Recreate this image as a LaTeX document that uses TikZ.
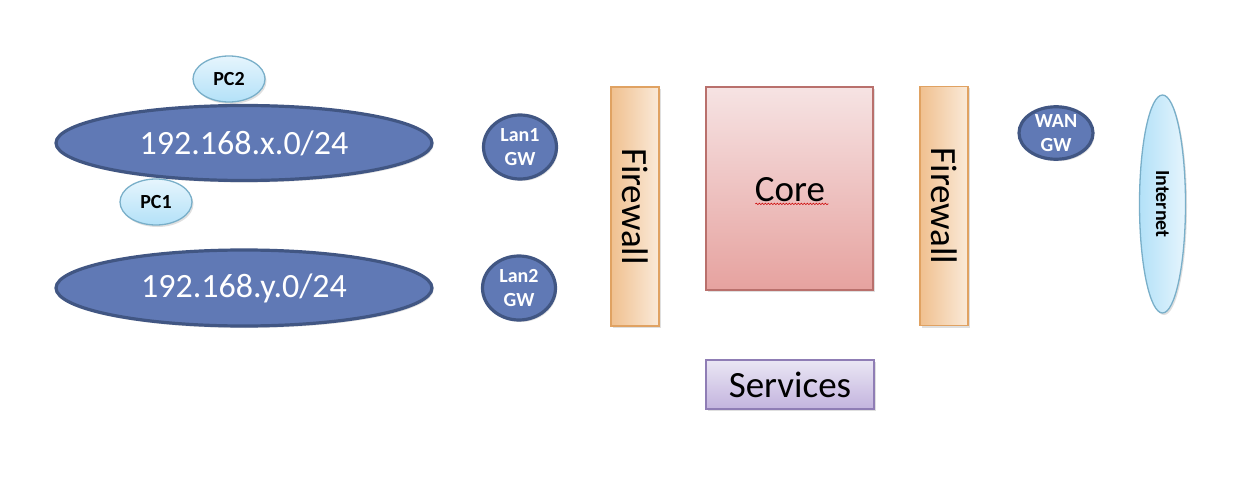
\documentclass[tikz,border=0pt]{standalone}
\usepackage{fontspec}
\setmainfont{Carlito}
\usetikzlibrary{shapes.geometric,shadows,decorations.pathmorphing}
\definecolor{netfill}{HTML}{6079B5}
\definecolor{netdraw}{HTML}{415683}
\definecolor{pcdraw}{HTML}{79AFC9}
\definecolor{pclight}{HTML}{E6F5FD}
\definecolor{pcdark}{HTML}{B3E1F8}
\definecolor{fwdraw}{HTML}{E0A262}
\definecolor{fwleft}{HTML}{F0C08F}
\definecolor{fwright}{HTML}{FAEAD9}
\definecolor{coretop}{HTML}{F6E3E3}
\definecolor{corebot}{HTML}{E6A29F}
\definecolor{coredraw}{HTML}{B9706C}
\definecolor{svtop}{HTML}{EAE6F4}
\definecolor{svbot}{HTML}{C3B4DE}
\definecolor{svdraw}{HTML}{8F7DB5}
\tikzset{
  x=1pt,y=-1pt,
  shad/.style={drop shadow={shadow xshift=1.5pt,shadow yshift=-2pt,opacity=0.25,fill=gray}},
  net/.style={ellipse,draw=netdraw,line width=3.2pt,fill=netfill,text=white,inner sep=0pt,font=\fontsize{34}{36}\selectfont,shad},
  gw/.style={ellipse,draw=netdraw,line width=3.2pt,fill=netfill,text=white,inner sep=0pt,font=\fontsize{20}{24}\selectfont\bfseries,align=center,shad},
  pc/.style={ellipse,draw=pcdraw,line width=1.3pt,top color=pclight,bottom color=pcdark,text=black,inner sep=0pt,font=\fontsize{20}{22}\selectfont\bfseries,shad},
  fw/.style={rectangle,draw=fwdraw,line width=1.5pt,left color=fwleft,right color=fwright,inner sep=0pt,minimum width=48pt,minimum height=239pt,shad},
  bigtext/.style={font=\fontsize{37}{40}\selectfont},
}
\begin{document}
\begin{tikzpicture}
\useasboundingbox[fill=white] (0,0) rectangle (1240,484);
% networks
\node[net,minimum width=376pt,minimum height=75pt] (netx) at (244,143) {192.168.x.0/24};
\node[net,minimum width=376pt,minimum height=76pt] (nety) at (244,288) {192.168.y.0/24};
\node[pc,minimum width=72pt,minimum height=46pt] (pc2) at (229,79) {PC2};
\node[pc,minimum width=72pt,minimum height=46pt] (pc1) at (156,202) {PC1};
% gateways
\node[gw,minimum width=73pt,minimum height=64pt] (lan1) at (520,147) {Lan1\\GW};
\node[gw,minimum width=73pt,minimum height=64pt] (lan2) at (519,288) {Lan2\\GW};
\node[gw,minimum width=74pt,minimum height=48pt] (wan) at (1056,133) {WAN\\GW};
% firewalls
\node[fw] (fw1) at (635,206.5) {};
\node[bigtext,rotate=-90] (fw1t) at (fw1.center) {Firewall};
\node[fw] (fw2) at (944,206) {};
\node[bigtext,rotate=-90] (fw2t) at (fw2.center) {Firewall};
% core
\node[rectangle,draw=coredraw,line width=1.5pt,top color=coretop,bottom color=corebot,minimum width=167pt,minimum height=203pt,inner sep=0pt,shad] (core) at (789.5,188.5) {};
\node[bigtext] (coret) at (790,190) {Core};
\draw[red!80!black,line width=0.6pt,decorate,decoration={snake,amplitude=0.8pt,segment length=3pt}] ([yshift=-2pt]coret.base west) ++(4,0) coordinate (ul1) -- ([yshift=-2pt]coret.base east) ++(-4,0) coordinate (ul2);
% services
\node[rectangle,draw=svdraw,line width=1.5pt,top color=svtop,bottom color=svbot,minimum width=168pt,minimum height=49pt,inner sep=0pt,bigtext,shad] (svc) at (790,384.5) {Services};
% internet
\node[ellipse,draw=pcdraw,line width=1.3pt,left color=pcdark,right color=pclight,minimum width=46pt,minimum height=218pt,inner sep=0pt,shad] (inet) at (1162.5,204) {};
\node[rotate=-90,font=\fontsize{20}{22}\selectfont\bfseries] (inett) at (inet.center) {Internet};
\end{tikzpicture}
\end{document}
